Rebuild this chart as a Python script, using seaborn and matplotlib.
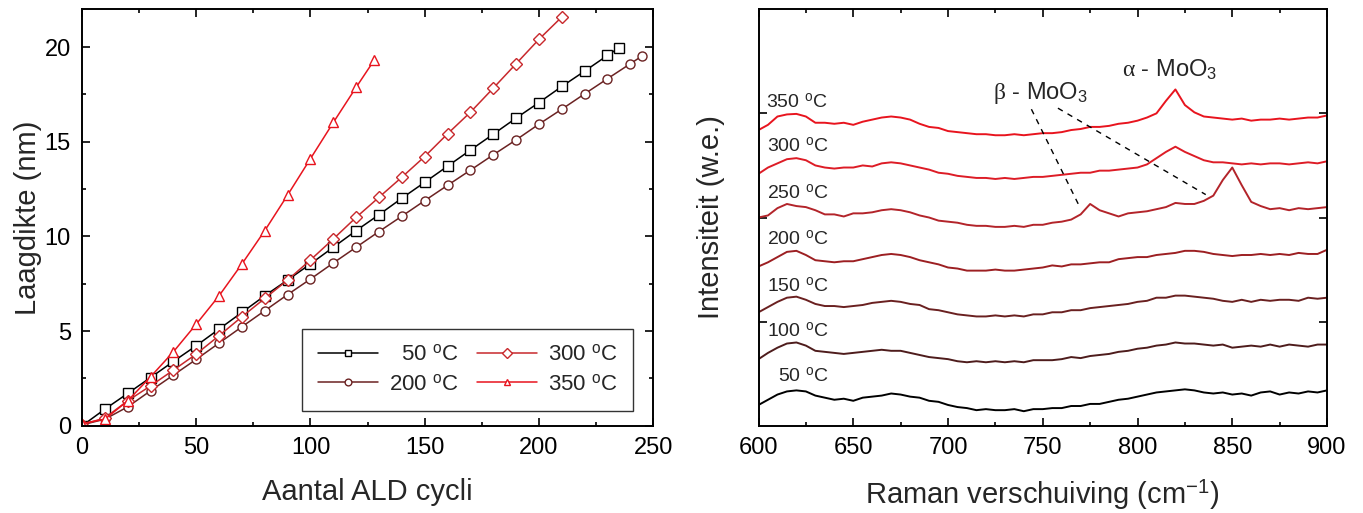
import numpy as np
import pandas as pd
import matplotlib
matplotlib.use('Agg')
import matplotlib.pyplot as plt
import seaborn as sns
from matplotlib.ticker import MultipleLocator

#1 Data: laagdikte vs aantal ALD cycli
cycles_50 = [0, 10, 20, 30, 40, 50, 60, 70, 80, 90, 100, 110, 120, 130, 140, 150,
             160, 170, 180, 190, 200, 210, 220, 230, 235]
thick_50 = [0, 0.88, 1.71, 2.55, 3.40, 4.23, 5.11, 5.99, 6.87, 7.70, 8.55, 9.43, 10.31,
            11.15, 12.02, 12.86, 13.71, 14.56, 15.40, 16.25, 17.07, 17.92, 18.73, 19.56, 19.96]
cycles_200 = [0, 10, 20, 30, 40, 50, 60, 70, 80, 90, 100, 110, 120, 130, 140, 150,
              160, 170, 180, 190, 200, 210, 220, 230, 240, 245]
thick_200 = [0.05, 0.35, 1.00, 1.85, 2.68, 3.51, 4.37, 5.23, 6.08, 6.93, 7.75, 8.60, 9.43,
             10.26, 11.07, 11.89, 12.70, 13.50, 14.31, 15.10, 15.93, 16.72, 17.53, 18.33,
             19.12, 19.52]
cycles_300 = [0, 10, 20, 30, 40, 50, 60, 70, 80, 90, 100, 110, 120, 130, 140, 150,
              160, 170, 180, 190, 200, 210]
thick_300 = [0.05, 0.42, 1.32, 2.11, 2.94, 3.79, 4.76, 5.76, 6.73, 7.70, 8.76, 9.87, 11.01,
             12.07, 13.13, 14.22, 15.42, 16.56, 17.83, 19.12, 20.41, 21.59]
cycles_350 = [0, 10, 20, 30, 40, 50, 60, 70, 80, 90, 100, 110, 120, 128]
thick_350 = [0.12, 0.35, 1.32, 2.59, 3.91, 5.37, 6.87, 8.55, 10.31, 12.19, 14.11, 16.02,
             17.88, 19.33]

#2 Data: Raman spectra (every 5 cm-1 from 600 to 900), stacked with an offset
raman_shift = np.arange(600, 901, 5)
spec_50 = [0.00, 0.05, 0.10, 0.13, 0.14, 0.13, 0.09, 0.07, 0.05, 0.06, 0.04, 0.07, 0.08, 0.09,
           0.11, 0.10, 0.08, 0.07, 0.04, 0.03, 0.00, -0.02, -0.03, -0.05, -0.04, -0.05, -0.05,
           -0.04, -0.06, -0.04, -0.04, -0.03, -0.03, -0.01, -0.01, 0.01, 0.01, 0.03, 0.05, 0.06,
           0.08, 0.10, 0.12, 0.13, 0.14, 0.15, 0.14, 0.12, 0.11, 0.12, 0.10, 0.11, 0.09, 0.12,
           0.13, 0.10, 0.12, 0.11, 0.13, 0.12, 0.14]
spec_100 = [0.00, 0.06, 0.11, 0.15, 0.16, 0.13, 0.08, 0.07, 0.06, 0.05, 0.06, 0.07, 0.08, 0.09,
            0.08, 0.08, 0.06, 0.04, 0.02, 0.01, 0.00, -0.02, -0.03, -0.02, -0.03, -0.02, -0.03,
            -0.02, -0.03, -0.01, -0.01, -0.01, 0.00, 0.02, 0.01, 0.03, 0.04, 0.05, 0.07, 0.08,
            0.10, 0.11, 0.13, 0.14, 0.16, 0.15, 0.15, 0.14, 0.13, 0.14, 0.11, 0.12, 0.13, 0.12,
            0.14, 0.12, 0.14, 0.13, 0.12, 0.14, 0.14]
spec_150 = [0.00, 0.05, 0.10, 0.14, 0.15, 0.12, 0.08, 0.06, 0.06, 0.05, 0.06, 0.07, 0.09, 0.10,
            0.11, 0.10, 0.08, 0.07, 0.03, 0.02, 0.00, -0.02, -0.03, -0.04, -0.04, -0.03, -0.04,
            -0.03, -0.04, -0.02, -0.02, 0.00, 0.00, 0.02, 0.02, 0.04, 0.05, 0.06, 0.07, 0.08,
            0.10, 0.11, 0.14, 0.14, 0.16, 0.16, 0.15, 0.14, 0.13, 0.11, 0.10, 0.12, 0.10, 0.12,
            0.11, 0.12, 0.12, 0.11, 0.14, 0.13, 0.14]
spec_200 = [0.00, 0.04, 0.09, 0.14, 0.15, 0.11, 0.06, 0.05, 0.04, 0.05, 0.05, 0.07, 0.09, 0.11,
            0.12, 0.11, 0.09, 0.06, 0.04, 0.02, -0.01, -0.02, -0.04, -0.04, -0.04, -0.03, -0.04,
            -0.04, -0.03, -0.02, -0.01, 0.01, 0.00, 0.02, 0.02, 0.03, 0.04, 0.04, 0.07, 0.08,
            0.09, 0.09, 0.11, 0.12, 0.13, 0.15, 0.15, 0.14, 0.12, 0.11, 0.10, 0.11, 0.11, 0.12,
            0.11, 0.12, 0.11, 0.13, 0.12, 0.12, 0.16]
spec_250 = [0.01, 0.03, 0.10, 0.14, 0.12, 0.11, 0.08, 0.04, 0.04, 0.02, 0.05, 0.05, 0.06, 0.08,
            0.09, 0.08, 0.06, 0.03, 0.01, -0.02, -0.03, -0.04, -0.06, -0.07, -0.07, -0.08, -0.08,
            -0.07, -0.08, -0.06, -0.06, -0.04, -0.03, -0.01, 0.04, 0.14, 0.08, 0.05, 0.02, 0.05,
            0.06, 0.07, 0.09, 0.11, 0.15, 0.14, 0.14, 0.17, 0.22, 0.37, 0.49, 0.32, 0.16, 0.12,
            0.09, 0.10, 0.08, 0.10, 0.09, 0.10, 0.11]
spec_300 = [0.00, 0.06, 0.10, 0.14, 0.15, 0.13, 0.08, 0.06, 0.05, 0.06, 0.06, 0.08, 0.07, 0.10,
            0.11, 0.10, 0.08, 0.06, 0.04, 0.01, 0.00, -0.02, -0.03, -0.04, -0.04, -0.05, -0.04,
            -0.05, -0.04, -0.03, -0.03, -0.02, -0.01, 0.00, 0.01, 0.01, 0.03, 0.03, 0.04, 0.05,
            0.06, 0.09, 0.15, 0.21, 0.26, 0.21, 0.17, 0.13, 0.11, 0.11, 0.10, 0.09, 0.10, 0.09,
            0.10, 0.10, 0.09, 0.10, 0.11, 0.10, 0.12]
spec_350 = [0.00, 0.05, 0.13, 0.15, 0.155, 0.13, 0.07, 0.07, 0.06, 0.07, 0.05, 0.08, 0.10, 0.12,
            0.13, 0.12, 0.10, 0.06, 0.03, 0.02, -0.01, -0.02, -0.03, -0.04, -0.04, -0.05, -0.05,
            -0.04, -0.05, -0.04, -0.03, -0.03, -0.02, 0.00, 0.01, 0.03, 0.03, 0.04, 0.06, 0.07,
            0.09, 0.12, 0.16, 0.28, 0.39, 0.24, 0.17, 0.13, 0.12, 0.11, 0.10, 0.11, 0.09, 0.10,
            0.10, 0.11, 0.10, 0.11, 0.12, 0.12, 0.14]
spec_temps = ['50', '100', '150', '200', '250', '300', '350']
spec_offsets = [0.20, 0.64, 1.09, 1.53, 1.99, 2.42, 2.84]
spec_colors = ['#000000', '#4e1c1c', '#6a2020', '#9c1f22', '#b3242a', '#dd1c26', '#e8141e']
# label positions (x, y) next to each spectrum
spec_label_x = [610.5, 604.5, 604.5, 604.5, 604.5, 604.5, 604]
spec_label_y = [0.47, 0.91, 1.34, 1.79, 2.23, 2.68, 3.11]
# dashed guide lines for the MoO3 phases
beta_line_x, beta_line_y = [744, 769], [3.04, 2.12]
alpha_line_x, alpha_line_y = [758, 836], [3.05, 2.22]

#3 Style
sns.set_style('ticks')
plt.rcParams['font.family'] = ['Liberation Sans', 'DejaVu Sans']
plt.rcParams['mathtext.fontset'] = 'custom'
plt.rcParams['mathtext.rm'] = 'Liberation Sans'
plt.rcParams['mathtext.it'] = 'Liberation Serif'
plt.rcParams['mathtext.bf'] = 'Liberation Sans:bold'
plt.rcParams['axes.linewidth'] = 1.4
plt.rcParams['axes.edgecolor'] = 'black'

fig = plt.figure(figsize=(13.63, 5.13), dpi=100)
ax1 = fig.add_axes([0.0602, 0.170, 0.419, 0.812])
ax2 = fig.add_axes([0.5565, 0.170, 0.4171, 0.812])

deg = r' $^{\rm o}$C'

#4 Left panel
series = [(cycles_50, thick_50, '50', 's', '#000000'),
          (cycles_200, thick_200, '200', 'o', '#6b2222'),
          (cycles_300, thick_300, '300', 'D', '#c8282c'),
          (cycles_350, thick_350, '350', '^', '#e8141e')]
for xs, ys, lab, mk, col in series:
    ms = 6.5 if mk != 'D' else 6.3
    sns.lineplot(x=xs, y=ys, ax=ax1, color=col, lw=1.1, marker=mk, ms=ms,
                 mfc='white', mec=col, mew=1.0, label=lab + deg, sort=False)

ax1.set_xlim(0, 250)
ax1.set_ylim(0, 22)
ax1.xaxis.set_major_locator(MultipleLocator(50))
ax1.xaxis.set_minor_locator(MultipleLocator(25))
ax1.yaxis.set_major_locator(MultipleLocator(5))
ax1.yaxis.set_minor_locator(MultipleLocator(2.5))
ax1.set_xlabel('Aantal ALD cycli', fontsize=21, labelpad=14)
ax1.set_ylabel('Laagdikte (nm)', fontsize=21, labelpad=2)

handles, labels = ax1.get_legend_handles_labels()
labels = ['  50' + deg, '200' + deg, '300' + deg, '350' + deg]
leg = ax1.legend(handles, labels, ncol=2, loc='lower right',
                 bbox_to_anchor=(0.965, 0.036), borderaxespad=0, fontsize=16,
                 frameon=True, fancybox=False, edgecolor='black', handlelength=2.7,
                 markerscale=0.75, columnspacing=0.8, handletextpad=0.5,
                 borderpad=0.7, labelspacing=0.4)
leg.get_frame().set_linewidth(1.0)

#5 Right panel
rows = []
spectra = [spec_50, spec_100, spec_150, spec_200, spec_250, spec_300, spec_350]
for temp, vals, off in zip(spec_temps, spectra, spec_offsets):
    for s, v in zip(raman_shift, vals):
        rows.append({'shift': s, 'intensity': v + off, 'temp': temp})
df = pd.DataFrame(rows)
sns.lineplot(data=df, x='shift', y='intensity', hue='temp', hue_order=spec_temps,
             palette=spec_colors, lw=1.4, legend=False, ax=ax2, sort=False)

for temp, lx, ly in zip(spec_temps, spec_label_x, spec_label_y):
    ax2.text(lx, ly, temp + deg, fontsize=14, va='center', ha='left')

ax2.plot(beta_line_x, beta_line_y, ls=(0, (4, 4)), color='black', lw=1.0)
ax2.plot(alpha_line_x, alpha_line_y, ls=(0, (4, 4)), color='black', lw=1.0)
ax2.text(723.5, 3.20, r'$\beta$ - MoO$_3$', fontsize=17, va='center', ha='left')
ax2.text(792, 3.42, r'$\alpha$ - MoO$_3$', fontsize=17, va='center', ha='left')

ax2.set_xlim(600, 900)
ax2.set_ylim(0, 4)
ax2.xaxis.set_major_locator(MultipleLocator(50))
ax2.xaxis.set_minor_locator(MultipleLocator(25))
ax2.set_yticks([1, 2, 3])
ax2.set_yticklabels([])
ax2.set_xlabel('Raman verschuiving (cm$^{-1}$)', fontsize=21, labelpad=14)
ax2.set_ylabel('Intensiteit (w.e.)', fontsize=21, labelpad=16)

for ax in (ax1, ax2):
    ax.tick_params(which='both', direction='in', top=True, right=True,
                   width=1.2, colors='black')
    ax.tick_params(which='major', length=6, labelsize=17, pad=8)
    ax.tick_params(which='minor', length=3)
    for sp in ax.spines.values():
        sp.set_visible(True)

fig.savefig('out.png', dpi=100)
